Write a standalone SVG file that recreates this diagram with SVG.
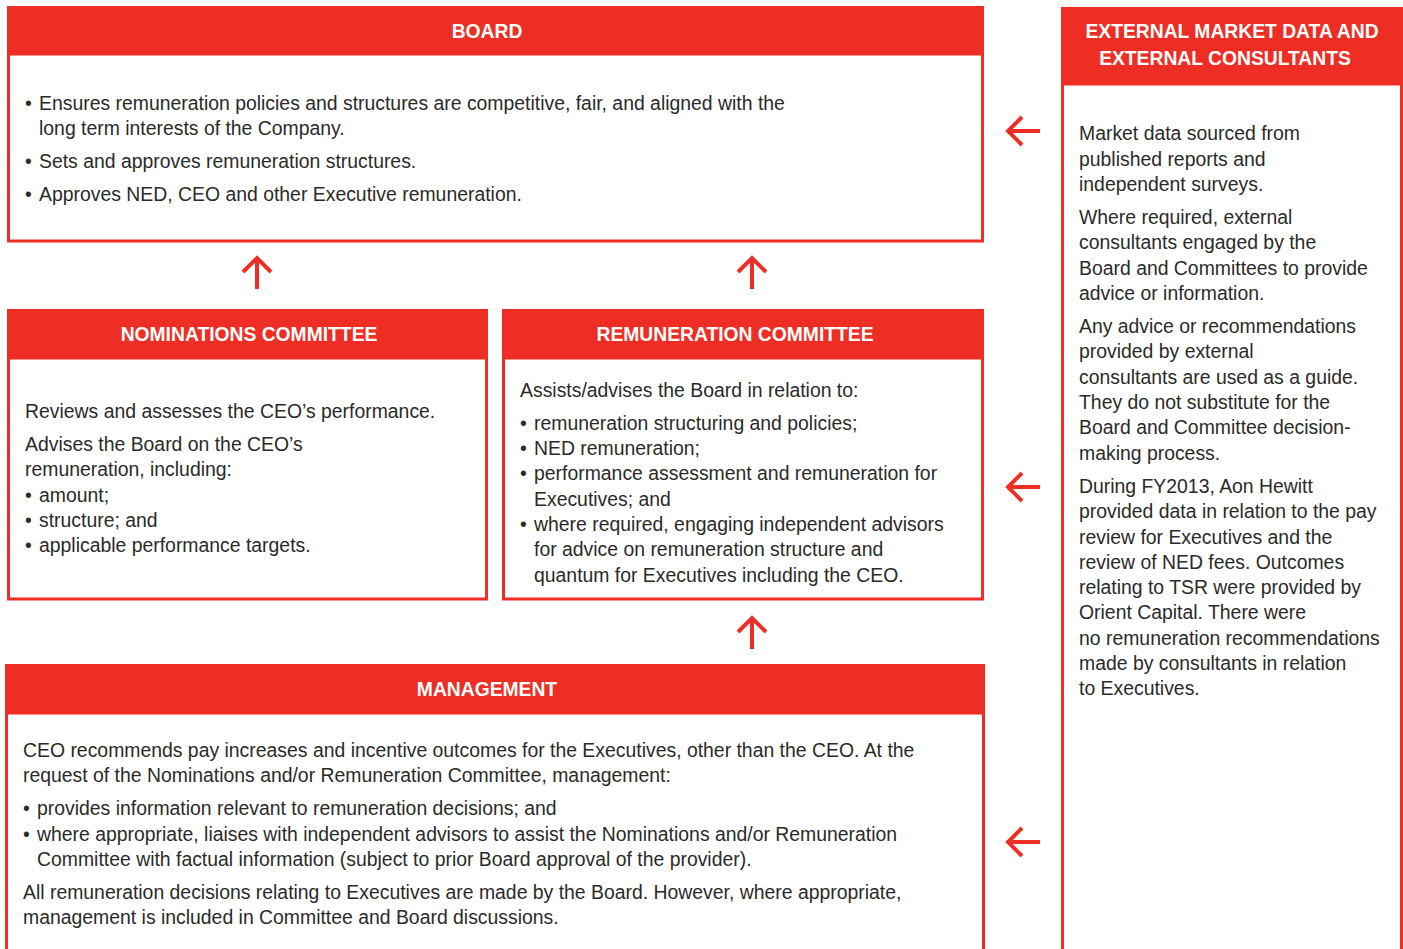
<svg xmlns="http://www.w3.org/2000/svg" width="1403" height="949" viewBox="0 0 1403 949">
  <style>
    .hd { fill: #ee2e24; }
    .bd { fill: #ffffff; stroke: #ee2e24; stroke-width: 3; }
    .ht { font-family: "Liberation Sans", Arial, sans-serif; font-size: 19.3px; font-weight: bold; fill: #ffffff; text-anchor: middle; }
    .tx { font-family: "Liberation Sans", Arial, sans-serif; font-size: 19.4px; fill: #2b2a29; }
    .ar { fill: none; stroke: #ee2e24; stroke-width: 4; }
  </style>
  <rect width="1403" height="949" fill="#ffffff"/>

  <!-- Board -->
  <g id="board">
    <rect class="bd" x="8.5" y="54" width="974" height="187"/>
    <rect class="hd" x="7" y="6" width="977" height="48"/>
    <text class="ht" x="487" y="38">BOARD</text>
    <text class="tx" y="110"><tspan x="25">•</tspan><tspan x="39">Ensures remuneration policies and structures are competitive, fair, and aligned with the</tspan></text>
    <text class="tx" x="39" y="135">long term interests of the Company.</text>
    <text class="tx" y="168"><tspan x="25">•</tspan><tspan x="39">Sets and approves remuneration structures.</tspan></text>
    <text class="tx" y="201"><tspan x="25">•</tspan><tspan x="39">Approves NED, CEO and other Executive remuneration.</tspan></text>
  </g>

  <!-- External market data and consultants -->
  <g id="external">
    <rect class="bd" x="1062.5" y="84" width="339" height="880"/>
    <rect class="hd" x="1061" y="7" width="342" height="77"/>
    <text class="ht" x="1232" y="38">EXTERNAL MARKET DATA AND</text>
    <text class="ht" x="1225" y="65">EXTERNAL CONSULTANTS</text>
    <text class="tx" x="1079" y="140">Market data sourced from</text>
    <text class="tx" x="1079" y="166">published reports and</text>
    <text class="tx" x="1079" y="191">independent surveys.</text>
    <text class="tx" x="1079" y="224">Where required, external</text>
    <text class="tx" x="1079" y="249">consultants engaged by the</text>
    <text class="tx" x="1079" y="275">Board and Committees to provide</text>
    <text class="tx" x="1079" y="300">advice or information.</text>
    <text class="tx" x="1079" y="333">Any advice or recommendations</text>
    <text class="tx" x="1079" y="358">provided by external</text>
    <text class="tx" x="1079" y="384">consultants are used as a guide.</text>
    <text class="tx" x="1079" y="409">They do not substitute for the</text>
    <text class="tx" x="1079" y="434">Board and Committee decision-</text>
    <text class="tx" x="1079" y="460">making process.</text>
    <text class="tx" x="1079" y="493">During FY2013, Aon Hewitt</text>
    <text class="tx" x="1079" y="518">provided data in relation to the pay</text>
    <text class="tx" x="1079" y="544">review for Executives and the</text>
    <text class="tx" x="1079" y="569">review of NED fees. Outcomes</text>
    <text class="tx" x="1079" y="594">relating to TSR were provided by</text>
    <text class="tx" x="1079" y="619">Orient Capital. There were</text>
    <text class="tx" x="1079" y="645">no remuneration recommendations</text>
    <text class="tx" x="1079" y="670">made by consultants in relation</text>
    <text class="tx" x="1079" y="695">to Executives.</text>
  </g>

  <!-- Nominations committee -->
  <g id="nominations">
    <rect class="bd" x="8.5" y="358" width="478" height="241"/>
    <rect class="hd" x="7" y="309" width="481" height="49"/>
    <text class="ht" x="249" y="341">NOMINATIONS COMMITTEE</text>
    <text class="tx" x="25" y="418">Reviews and assesses the CEO’s performance.</text>
    <text class="tx" x="25" y="451">Advises the Board on the CEO’s</text>
    <text class="tx" x="25" y="476">remuneration, including:</text>
    <text class="tx" y="502"><tspan x="25">•</tspan><tspan x="39">amount;</tspan></text>
    <text class="tx" y="527"><tspan x="25">•</tspan><tspan x="39">structure; and</tspan></text>
    <text class="tx" y="552"><tspan x="25">•</tspan><tspan x="39">applicable performance targets.</tspan></text>
  </g>

  <!-- Remuneration committee -->
  <g id="remuneration">
    <rect class="bd" x="503.5" y="358" width="479" height="241"/>
    <rect class="hd" x="502" y="309" width="482" height="49"/>
    <text class="ht" x="735" y="341">REMUNERATION COMMITTEE</text>
    <text class="tx" x="520" y="397">Assists/advises the Board in relation to:</text>
    <text class="tx" y="430"><tspan x="520">•</tspan><tspan x="534">remuneration structuring and policies;</tspan></text>
    <text class="tx" y="455"><tspan x="520">•</tspan><tspan x="534">NED remuneration;</tspan></text>
    <text class="tx" y="480"><tspan x="520">•</tspan><tspan x="534">performance assessment and remuneration for</tspan></text>
    <text class="tx" x="534" y="506">Executives; and</text>
    <text class="tx" y="531"><tspan x="520">•</tspan><tspan x="534">where required, engaging independent advisors</tspan></text>
    <text class="tx" x="534" y="556">for advice on remuneration structure and</text>
    <text class="tx" x="534" y="582">quantum for Executives including the CEO.</text>
  </g>

  <!-- Management -->
  <g id="management">
    <rect class="bd" x="6.5" y="713" width="977" height="260"/>
    <rect class="hd" x="5" y="664" width="980" height="49"/>
    <text class="ht" x="487" y="696">MANAGEMENT</text>
    <text class="tx" x="23" y="757">CEO recommends pay increases and incentive outcomes for the Executives, other than the CEO. At the</text>
    <text class="tx" x="23" y="782">request of the Nominations and/or Remuneration Committee, management:</text>
    <text class="tx" y="815"><tspan x="23">•</tspan><tspan x="37">provides information relevant to remuneration decisions; and</tspan></text>
    <text class="tx" y="841"><tspan x="23">•</tspan><tspan x="37">where appropriate, liaises with independent advisors to assist the Nominations and/or Remuneration</tspan></text>
    <text class="tx" x="37" y="866">Committee with factual information (subject to prior Board approval of the provider).</text>
    <text class="tx" x="23" y="899">All remuneration decisions relating to Executives are made by the Board. However, where appropriate,</text>
    <text class="tx" x="23" y="924">management is included in Committee and Board discussions.</text>
  </g>

  <!-- Connectors -->
  <g id="connectors">
    <path class="ar" d="M257 289 V258 M243 272 L257 258 L271 272"/>
    <path class="ar" d="M752 289 V258 M738 272 L752 258 L766 272"/>
    <path class="ar" d="M752 649 V618 M738 632 L752 618 L766 632"/>
    <path class="ar" d="M1040 131 H1008 M1022 117 L1008 131 L1022 145"/>
    <path class="ar" d="M1040 487 H1008 M1022 473 L1008 487 L1022 501"/>
    <path class="ar" d="M1040 842 H1008 M1022 828 L1008 842 L1022 856"/>
  </g>
</svg>
